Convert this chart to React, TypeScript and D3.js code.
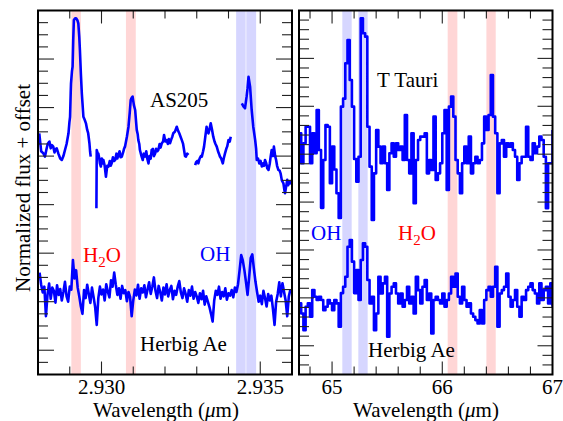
import React from 'react';
import * as d3 from 'd3';

const W = 563;
const H = 421;
const FONT = '"Liberation Serif", "Times New Roman", Times, serif';

// ---- axis ticks / labels ----
const leftXTicks = [2.929, 2.93, 2.931, 2.932, 2.933, 2.934, 2.935];
const leftXLabels = [2.93, 2.935];
const rightXTicks = [64.8, 65.0, 65.2, 65.4, 65.6, 65.8, 66.0, 66.2, 66.4, 66.6, 66.8];
const rightXLabels = [65, 66, 67];

// ---- shaded line positions ----
const h2oBandsLeft: [number, number][] = [[2.92905, 2.92935], [2.93077, 2.93108]];
const ohBandsLeft: [number, number][] = [[2.93424, 2.93454], [2.93456, 2.93487]];
const ohBandsRight: [number, number][] = [[65.093, 65.178], [65.238, 65.323]];
const h2oBandsRight: [number, number][] = [[66.049, 66.137], [66.4, 66.485]];

// ---- AS205 (left, top) : [wavelength, flux], null = gap ----
const as205: [number, number | null][] = [
  [2.92804, 0.894], [2.9281, 0.82], [2.92817, 0.811], [2.92822, 0.798], [2.92827, 0.83], [2.92831, 0.852],
  [2.92836, 0.86], [2.9284, 0.832], [2.92844, 0.845], [2.92848, 0.839], [2.92852, 0.815], [2.92856, 0.83],
  [2.92859, 0.832], [2.92864, 0.811], [2.9287, 0.79], [2.92875, 0.784], [2.9288, 0.8], [2.92885, 0.825],
  [2.9289, 0.85], [2.92896, 0.894], [2.92899, 0.94], [2.92901, 0.962], [2.92903, 1.06], [2.92904, 1.1],
  [2.92907, 1.15], [2.92909, 1.169], [2.92911, 1.28], [2.92913, 1.361], [2.92917, 1.368], [2.9292, 1.368],
  [2.92924, 1.36], [2.92927, 1.347], [2.9293, 1.29], [2.92932, 1.237], [2.92935, 1.14], [2.92938, 1.059],
  [2.92943, 0.962], [2.92947, 0.95], [2.92951, 0.935], [2.92955, 0.908], [2.92958, 0.895], [2.92962, 0.853],
  [2.92964, 0.82], [2.92966, 0.798], [2.92975, null],
  [2.92984, 0.585], [2.92985, 0.825], [2.92988, 0.811], [2.9299, 0.811], [2.92993, 0.79], [2.92995, 0.77],
  [2.92998, 0.757], [2.93001, 0.79], [2.93004, 0.77], [2.93006, 0.784], [2.9301, 0.76], [2.93014, 0.715],
  [2.93018, 0.76], [2.93022, 0.757], [2.93026, 0.78], [2.93029, 0.76], [2.93032, 0.77], [2.93036, 0.795],
  [2.9304, 0.78], [2.93043, 0.784], [2.93047, 0.81], [2.9305, 0.79], [2.93053, 0.805], [2.93057, 0.82],
  [2.9306, 0.795], [2.93064, 0.798], [2.93068, 0.815], [2.93071, 0.83], [2.93074, 0.839], [2.9308, 0.88],
  [2.93085, 0.921], [2.93089, 0.98], [2.93092, 1.031], [2.93095, 1.04], [2.93098, 1.045], [2.93102, 1.01],
  [2.93106, 0.99], [2.93109, 0.94], [2.93111, 0.908], [2.93114, 0.89], [2.93116, 0.866], [2.93119, 0.85],
  [2.93121, 0.825], [2.93126, 0.8], [2.9313, 0.784], [2.93133, 0.81], [2.93137, 0.798], [2.93141, 0.82],
  [2.93144, 0.79], [2.93148, 0.77], [2.93151, 0.8], [2.93155, 0.79], [2.93158, 0.825], [2.93162, 0.83],
  [2.93165, 0.8], [2.93169, 0.811], [2.93172, 0.83], [2.93176, 0.82], [2.93179, 0.825], [2.93183, 0.85],
  [2.93186, 0.835], [2.9319, 0.853], [2.93194, 0.86], [2.93197, 0.887], [2.93201, 0.86], [2.93205, 0.866],
  [2.93209, 0.85], [2.93212, 0.87], [2.93216, 0.853], [2.9322, 0.87], [2.93223, 0.88], [2.93226, 0.894],
  [2.93231, 0.9], [2.93237, 0.921], [2.93241, 0.905], [2.93245, 0.894], [2.93249, 0.88], [2.93253, 0.866],
  [2.93257, 0.85], [2.9326, 0.825], [2.93263, 0.8], [2.93266, 0.798], [2.9327, 0.81], [2.93274, 0.805],
  [2.93285, null],
  [2.93295, 0.763], [2.93298, 0.775], [2.93302, 0.78], [2.93305, 0.77], [2.93309, 0.79], [2.93313, 0.8],
  [2.93316, 0.798], [2.9332, 0.82], [2.93323, 0.839], [2.93327, 0.88], [2.93331, 0.921], [2.93334, 0.9],
  [2.93337, 0.894], [2.9334, 0.91], [2.93344, 0.935], [2.93348, 0.91], [2.93352, 0.88], [2.93356, 0.86],
  [2.93359, 0.85], [2.93363, 0.839], [2.93367, 0.82], [2.9337, 0.81], [2.93373, 0.798], [2.93377, 0.79],
  [2.93382, 0.77], [2.93385, 0.79], [2.93389, 0.811], [2.93393, 0.83], [2.93396, 0.84], [2.934, 0.866],
  [2.93404, 0.86], [2.93407, 0.88], [2.93425, null],
  [2.93442, 1.017], [2.93447, 1.005], [2.93452, 0.997], [2.93457, 1.045], [2.9346, 1.08], [2.93463, 1.127],
  [2.93468, 1.086], [2.93473, 0.99], [2.93478, 0.921], [2.93484, 0.866], [2.93487, 0.83], [2.93489, 0.784],
  [2.93493, 0.79], [2.93497, 0.77], [2.93501, 0.78], [2.93505, 0.757], [2.93509, 0.77], [2.93512, 0.76],
  [2.93515, 0.784], [2.93519, 0.77], [2.93522, 0.75], [2.93526, 0.743], [2.9353, 0.77], [2.93533, 0.8],
  [2.93536, 0.825], [2.9354, 0.8], [2.93543, 0.839], [2.93547, 0.8], [2.9355, 0.784], [2.93553, 0.76],
  [2.93557, 0.743], [2.93561, 0.74], [2.93564, 0.729], [2.93568, 0.7], [2.93573, 0.688], [2.93576, 0.66],
  [2.93578, 0.647], [2.93581, 0.67], [2.93585, 0.702], [2.93588, 0.68], [2.93591, 0.695], [2.93594, 0.688],
  [2.936, 0.7],
];

// ---- Herbig Ae (left, bottom) ----
const herbigLeftWl = [
  2.92805, 2.9281, 2.92815, 2.9282, 2.92825, 2.9283, 2.92835, 2.9284, 2.92845, 2.9285,
  2.92855, 2.9286, 2.92865, 2.9287, 2.92875, 2.9288, 2.92885, 2.9289, 2.92895, 2.929,
  2.92905, 2.9291, 2.92915, 2.9292, 2.92925, 2.9293, 2.92935, 2.9294, 2.92945, 2.9295,
  2.92955, 2.9296, 2.92965, 2.9297, 2.92975, 2.9298, 2.92985, 2.9299, 2.92995, 2.93,
  2.93005, 2.9301, 2.93015, 2.9302, 2.93025, 2.9303, 2.93035, 2.9304, 2.93045, 2.9305,
  2.93055, 2.9306, 2.93065, 2.9307, 2.93075, 2.9308, 2.93085, 2.9309, 2.93095, 2.931,
  2.93105, 2.9311, 2.93115, 2.9312, 2.93125, 2.9313, 2.93135, 2.9314, 2.93145, 2.9315,
  2.93155, 2.9316, 2.93165, 2.9317, 2.93175, 2.9318, 2.93185, 2.9319, 2.93195, 2.932,
  2.93205, 2.9321, 2.93215, 2.9322, 2.93225, 2.9323, 2.93235, 2.9324, 2.93245, 2.9325,
  2.93255, 2.9326, 2.93265, 2.9327, 2.93275, 2.9328, 2.93285, 2.9329, 2.93295, 2.933,
  2.93305, 2.9331, 2.93315, 2.9332, 2.93325, 2.9333, 2.93335, 2.9334, 2.93345, 2.9335,
  2.93355, 2.9336, 2.93365, 2.9337, 2.93375, 2.9338, 2.93385, 2.9339, 2.93395, 2.934,
  2.93405, 2.9341, 2.93415, 2.9342, 2.93425, 2.9343, 2.93435, 2.9344, 2.93445, 2.9345,
  2.93455, 2.9346, 2.93465, 2.9347, 2.93475, 2.9348, 2.93485, 2.9349, 2.93495, 2.935,
  2.93505, 2.9351, 2.93515, 2.9352, 2.93525, 2.9353, 2.93535, 2.9354, 2.93545, 2.9355,
  2.93555, 2.9356, 2.93565, 2.9357, 2.93575, 2.9358, 2.93585, 2.9359, 2.93595,
];
const herbigLeftFlux = [
  0.32, 0.27, 0.238, 0.262, 0.14, 0.23, 0.275, 0.212, 0.258, 0.245,
  0.196, 0.268, 0.228, 0.252, 0.205, 0.24, 0.282, 0.222, 0.2, 0.262,
  0.25, 0.372, 0.296, 0.33, 0.258, 0.222, 0.18, 0.15, 0.248, 0.215,
  0.27, 0.232, 0.195, 0.258, 0.22, 0.178, 0.104, 0.215, 0.262, 0.23,
  0.25, 0.205, 0.272, 0.24, 0.218, 0.288, 0.262, 0.32, 0.27, 0.228,
  0.255, 0.212, 0.265, 0.235, 0.248, 0.202, 0.24, 0.22, 0.14, 0.205,
  0.25, 0.226, 0.27, 0.212, 0.255, 0.238, 0.268, 0.218, 0.25, 0.28,
  0.232, 0.262, 0.3, 0.245, 0.215, 0.265, 0.24, 0.205, 0.258, 0.23,
  0.272, 0.222, 0.248, 0.265, 0.21, 0.245, 0.228, 0.262, 0.285, 0.238,
  0.215, 0.255, 0.232, 0.2, 0.248, 0.225, 0.262, 0.212, 0.24, 0.222,
  0.195, 0.235, 0.21, 0.245, 0.188, 0.222, 0.2, 0.178, 0.15, 0.118,
  0.205, 0.245, 0.228, 0.262, 0.212, 0.24, 0.222, 0.255, 0.208, 0.235,
  0.225, 0.248, 0.218, 0.258, 0.24, 0.272, 0.33, 0.392, 0.37, 0.33,
  0.282, 0.228, 0.3, 0.38, 0.395, 0.335, 0.282, 0.24, 0.2, 0.225,
  0.19, 0.245, 0.215, 0.18, 0.232, 0.205, 0.225, 0.17, 0.104, 0.2,
  0.232, 0.28, 0.222, 0.276, 0.24, 0.205, 0.14, 0.222, 0.25,
];

// ---- right panel (step spectra on a common grid) ----
const rightWl = [
  64.7, 64.72, 64.74, 64.76, 64.78, 64.8, 64.82, 64.84, 64.86, 64.88,
  64.9, 64.92, 64.94, 64.96, 64.98, 65.0, 65.02, 65.04, 65.06, 65.08,
  65.1, 65.12, 65.14, 65.16, 65.18, 65.2, 65.22, 65.24, 65.26, 65.28,
  65.3, 65.32, 65.34, 65.36, 65.38, 65.4, 65.42, 65.44, 65.46, 65.48,
  65.5, 65.52, 65.54, 65.56, 65.58, 65.6, 65.62, 65.64, 65.66, 65.68,
  65.7, 65.72, 65.74, 65.76, 65.78, 65.8, 65.82, 65.84, 65.86, 65.88,
  65.9, 65.92, 65.94, 65.96, 65.98, 66.0, 66.02, 66.04, 66.06, 66.08,
  66.1, 66.12, 66.14, 66.16, 66.18, 66.2, 66.22, 66.24, 66.26, 66.28,
  66.3, 66.32, 66.34, 66.36, 66.38, 66.4, 66.42, 66.44, 66.46, 66.48,
  66.5, 66.52, 66.54, 66.56, 66.58, 66.6, 66.62, 66.64, 66.66, 66.68,
  66.7, 66.72, 66.74, 66.76, 66.78, 66.8, 66.82, 66.84, 66.86, 66.88,
  66.9, 66.92, 66.94, 66.96, 66.98, 67.0,
];
const tTauriFlux = [
  2.218, 1.905, 2.113, 2.287, 2.287, 1.905, 2.218, 2.009, 2.461, 2.044,
  1.44, 1.939, 2.305, 2.287, 1.696, 2.079, 1.84, 1.592, 1.334, 2.496,
  2.58, 2.949, 3.192, 2.775, 2.496, 1.95, 1.713, 1.974, 3.418, 3.262,
  3.227, 2.287, 1.87, 1.313, 1.8, 2.253, 2.079, 1.905, 2.079, 1.905,
  1.626, 2.009, 2.113, 1.974, 2.113, 2.044, 2.079, 1.939, 2.409, 1.939,
  1.8, 2.218, 1.487, 1.939, 2.148, 2.183, 2.183, 2.218, 1.8, 1.939,
  1.835, 2.392, 1.731, 1.8, 1.905, 2.218, 2.461, 1.626, 2.496, 2.601,
  2.392, 1.939, 1.8, 1.592, 1.905, 2.079, 1.905, 2.183, 1.8, 1.905,
  1.974, 1.905, 1.939, 2.113, 2.392, 2.253, 2.409, 2.827, 2.392, 2.218,
  1.592, 2.113, 2.148, 1.974, 2.113, 2.079, 2.113, 2.044, 1.974, 1.731,
  1.905, 1.974, 1.974, 2.287, 1.974, 1.939, 2.113, 2.009, 2.079, 2.183,
  2.148, 1.974, 1.435, 1.905, 1.905, 2.253,
];
const herbigRightFlux = [
  0.442, 0.337, 0.163, 0.407, 0.442, 0.303, 0.581, 0.512, 0.477, 0.512,
  0.477, 0.372, 0.407, 0.477, 0.442, 0.372, 0.477, 0.442, 0.198, 0.55,
  0.616, 0.721, 1.034, 1.104, 0.878, 0.55, 0.79, 0.477, 0.895, 1.069,
  1.034, 0.686, 0.442, 0.512, 0.163, 0.337, 0.721, 0.546, 0.651, 0.721,
  0.094, 0.546, 0.616, 0.651, 0.546, 0.442, 0.546, 0.407, 0.477, 0.616,
  0.442, 0.512, 0.337, 0.721, 0.581, 0.442, 0.616, 0.686, 0.477, 0.546,
  0.128, 0.477, 0.512, 0.477, 0.442, 0.546, 0.407, 0.477, 0.546, 0.721,
  0.616, 0.755, 0.512, 0.442, 0.616, 0.477, 0.407, 0.442, 0.337, 0.303,
  0.268, 0.233, 0.372, 0.233, 0.477, 0.581, 0.616, 0.512, 0.616, 0.825,
  0.198, 0.546, 0.581, 0.616, 0.755, 0.512, 0.407, 0.477, 0.581, 0.407,
  0.303, 0.512, 0.477, 0.581, 0.616, 0.651, 0.581, 0.546, 0.442, 0.651,
  0.477, 0.581, 0.616, 0.442, 0.651, 0.407,
];

// ---- layout ----
const TOP = 10.5;
const BOTTOM = 374.5;
const LEFT_X0 = 38;
const LEFT_X1 = 292;
const RIGHT_X0 = 299;
const RIGHT_X1 = 552.5;

const BLUE = '#0000ff';
const PINK = 'rgba(255,0,0,0.16)';
const LILAC = 'rgba(0,0,255,0.16)';

type Pt = [number, number | null];

function Panel(props: {
  id: string;
  x: d3.ScaleLinear<number, number>;
  y: d3.ScaleLinear<number, number>;
  bands: { lo: number; hi: number; fill: string }[];
  series: { pts: Pt[]; step: boolean }[];
  xTicks: number[];
  xMajor: (v: number) => boolean;
  yTicks: { v: number; major: boolean }[];
  yMinorLen: number;
  yMajorLen: number;
}) {
  const { id, x, y, bands, series, xTicks, xMajor, yTicks, yMinorLen, yMajorLen } = props;
  const [x0, x1] = x.range();
  const [y1, y0] = y.range();
  return (
    <g>
      <defs>
        <clipPath id={id}>
          <rect x={x0} y={y0} width={x1 - x0} height={y1 - y0} />
        </clipPath>
      </defs>
      <g clipPath={`url(#${id})`}>
        {bands.map((b, i) => (
          <rect key={i} x={x(b.lo)} y={y0} width={x(b.hi) - x(b.lo)} height={y1 - y0} fill={b.fill} />
        ))}
        {series.map((s, i) => {
          const line = d3
            .line<Pt>()
            .defined((d) => d[1] !== null)
            .x((d) => x(d[0]))
            .y((d) => y(d[1] as number))
            .curve(s.step ? d3.curveStepAfter : d3.curveLinear);
          return (
            <path key={i} d={line(s.pts) || ''} fill="none" stroke={BLUE} strokeWidth={2.6} strokeLinejoin="round" />
          );
        })}
      </g>
      {xTicks.map((v, i) => {
        const len = xMajor(v) ? 13 : 8;
        const px = x(v);
        return (
          <g key={'xt' + i} stroke="#222" strokeWidth={1.1}>
            <line x1={px} x2={px} y1={y1} y2={y1 - len} />
            <line x1={px} x2={px} y1={y0} y2={y0 + len} />
          </g>
        );
      })}
      {yTicks.map((t, i) => {
        const len = t.major ? yMajorLen : yMinorLen;
        const py = y(t.v);
        return (
          <g key={'yt' + i} stroke="#222" strokeWidth={1.1}>
            <line x1={x0} x2={x0 + len} y1={py} y2={py} />
            <line x1={x1} x2={x1 - len} y1={py} y2={py} />
          </g>
        );
      })}
      <rect x={x0} y={y0} width={x1 - x0} height={y1 - y0} fill="none" stroke="#000" strokeWidth={2} />
    </g>
  );
}

export default function App() {
  const xL = d3.scaleLinear().domain([2.928, 2.936]).range([LEFT_X0, LEFT_X1]);
  const yL = d3.scaleLinear().domain([-0.1, 1.4]).range([BOTTOM, TOP]);
  const xR = d3.scaleLinear().domain([64.7, 67.0]).range([RIGHT_X0, RIGHT_X1]);
  const yR = d3.scaleLinear().domain([-0.3, 3.5]).range([BOTTOM, TOP]);

  const yTicksL = d3.range(-1, 28).map((i) => ({ v: i * 0.05, major: i % 4 === 0 }));
  const yTicksR = d3.range(-2, 35).map((i) => ({ v: i * 0.1, major: i % 5 === 0 }));

  const herbigLeft: Pt[] = herbigLeftWl.map((w, i) => [w, herbigLeftFlux[i]]);
  const tTauri: Pt[] = rightWl.map((w, i) => [w, tTauriFlux[i]]);
  const herbigRight: Pt[] = rightWl.map((w, i) => [w, herbigRightFlux[i]]);

  const leftBands = [
    ...h2oBandsLeft.map(([lo, hi]) => ({ lo, hi, fill: PINK })),
    ...ohBandsLeft.map(([lo, hi]) => ({ lo, hi, fill: LILAC })),
  ];
  const rightBands = [
    ...ohBandsRight.map(([lo, hi]) => ({ lo, hi, fill: LILAC })),
    ...h2oBandsRight.map(([lo, hi]) => ({ lo, hi, fill: PINK })),
  ];

  const fs = 21;
  const tstyle = { fontFamily: FONT };
  return (
    <svg
      width={W}
      height={H}
      viewBox={`0 0 ${W} ${H}`}
      style={{ position: 'absolute', left: 0, top: 0, background: '#fff', fontFamily: FONT }}
    >
      <rect x={0} y={0} width={W} height={H} fill="#fff" />
      <Panel
        id="clipL"
        x={xL}
        y={yL}
        bands={leftBands}
        series={[
          { pts: as205, step: false },
          { pts: herbigLeft, step: false },
        ]}
        xTicks={leftXTicks}
        xMajor={(v) => leftXLabels.some((l) => Math.abs(l - v) < 1e-7)}
        yTicks={yTicksL}
        yMinorLen={10}
        yMajorLen={16}
      />
      <Panel
        id="clipR"
        x={xR}
        y={yR}
        bands={rightBands}
        series={[
          { pts: tTauri, step: true },
          { pts: herbigRight, step: true },
        ]}
        xTicks={rightXTicks}
        xMajor={(v) => rightXLabels.some((l) => Math.abs(l - v) < 1e-7)}
        yTicks={yTicksR}
        yMinorLen={10}
        yMajorLen={15}
      />

      {/* tick labels */}
      {leftXLabels.map((v, i) => (
        <text key={'lxl' + i} style={tstyle} x={xL(v)} y={394} fontSize={fs} textAnchor="middle" fill="#000">
          {d3.format('.3f')(v)}
        </text>
      ))}
      {rightXLabels.map((v, i) => (
        <text key={'rxl' + i} style={tstyle} x={xR(v)} y={394} fontSize={fs} textAnchor="middle" fill="#000">
          {String(v)}
        </text>
      ))}

      {/* axis titles */}
      <text style={tstyle} x={166} y={417} fontSize={fs} textAnchor="middle" fill="#000">
        Wavelength (<tspan fontStyle="italic">μ</tspan>m)
      </text>
      <text style={tstyle} x={426} y={417} fontSize={fs} textAnchor="middle" fill="#000">
        Wavelength (<tspan fontStyle="italic">μ</tspan>m)
      </text>
      <text style={tstyle} transform="translate(30,188) rotate(-90)" fontSize={fs} textAnchor="middle" fill="#000">
        Normalized flux + offset
      </text>

      {/* in-panel labels */}
      <text style={tstyle} x={150} y={107} fontSize={fs} fill="#000">AS205</text>
      <text style={tstyle} x={377} y={87} fontSize={fs} fill="#000">T Tauri</text>
      <text style={tstyle} x={140} y={351} fontSize={fs} fill="#000">Herbig Ae</text>
      <text style={tstyle} x={368} y={357} fontSize={fs} fill="#000">Herbig Ae</text>
      <text style={tstyle} x={83} y={261.5} fontSize={fs} fill="#ff0000">
        H<tspan dy={5} fontSize={15}>2</tspan><tspan dy={-5}>O</tspan>
      </text>
      <text style={tstyle} x={200} y={261} fontSize={fs} fill={BLUE}>OH</text>
      <text style={tstyle} x={311} y={239.5} fontSize={fs} fill={BLUE}>OH</text>
      <text style={tstyle} x={398} y={239.5} fontSize={fs} fill="#ff0000">
        H<tspan dy={5} fontSize={15}>2</tspan><tspan dy={-5}>O</tspan>
      </text>
    </svg>
  );
}
